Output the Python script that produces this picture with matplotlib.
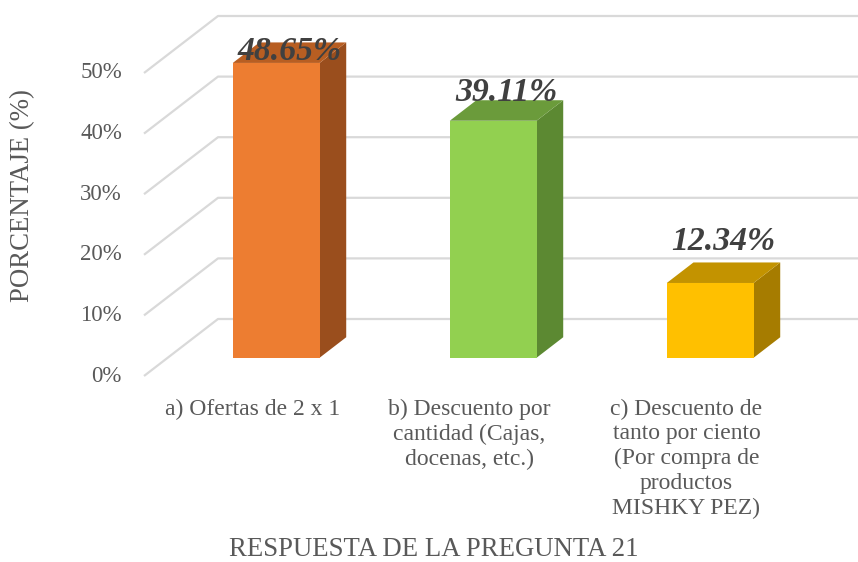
import matplotlib
matplotlib.use("Agg")
import matplotlib.pyplot as plt
from matplotlib.patches import Polygon

categories = ["a) Ofertas de 2 x 1",
              "b) Descuento por\ncantidad (Cajas,\ndocenas, etc.)",
              "c) Descuento de\ntanto por ciento\n(Por compra de\nproductos\nMISHKY PEZ)"]
values = [48.65, 39.11, 12.34]
value_labels = ["48.65%", "39.11%", "12.34%"]
yticks = [0, 10, 20, 30, 40, 50]
ytick_labels = ["0%", "10%", "20%", "30%", "40%", "50%"]

front_colors = ["#ED7D31", "#92D050", "#FFC000"]
side_colors = ["#9A4E1D", "#5C8932", "#A67C00"]
top_colors = ["#B85E22", "#6B9B3B", "#C39300"]
label_offsets_px = [1.5, 18, 31]

W, H = 858, 562
fig = plt.figure(figsize=(W / 100, H / 100), dpi=100)
ax = fig.add_axes([0, 0, 1, 1])
ax.set_axis_off()

px_per_cat = 217.0
px_per_pct = 6.06
x0_px = 144.0
y0_px = 376.0
ax.set_xlim(-x0_px / px_per_cat - 0.5, (W - x0_px) / px_per_cat - 0.5)
ax.set_ylim((y0_px - H) / px_per_pct, y0_px / px_per_pct)

kx = 74.0 / px_per_cat     # depth shift in category units
ky = 57.0 / px_per_pct     # depth shift in percent units
d0, d1 = 0.32, 0.68
hw = 0.2
grid_c = "#D9D9D9"
xr = ax.get_xlim()[1] + 1

# gridlines: diagonal on left side wall, horizontal on back wall
for t in yticks:
    ax.plot([-0.5, -0.5 + kx, xr], [t, t + ky, t + ky], color=grid_c, lw=1.6,
            solid_capstyle="butt", zorder=1)

for i, v in enumerate(values):
    c = i
    xl0, xr0 = c - hw + d0 * kx, c + hw + d0 * kx
    xl1, xr1 = c - hw + d1 * kx, c + hw + d1 * kx
    b0, b1 = d0 * ky, d1 * ky
    ax.add_patch(Polygon([(xr0, b0), (xr1, b1), (xr1, v + b1), (xr0, v + b0)],
                         closed=True, facecolor=side_colors[i], edgecolor="none", zorder=3))
    ax.add_patch(Polygon([(xl0, v + b0), (xr0, v + b0), (xr1, v + b1), (xl1, v + b1)],
                         closed=True, facecolor=top_colors[i], edgecolor="none", zorder=3))
    ax.add_patch(Polygon([(xl0, b0), (xr0, b0), (xr0, v + b0), (xl0, v + b0)],
                         closed=True, facecolor=front_colors[i], edgecolor="none", zorder=4))
    ax.text(c + 0.5 * kx, v + 0.5 * ky + label_offsets_px[i] / px_per_pct, value_labels[i],
            ha="center", va="center", fontsize=24.3, fontweight="bold", fontstyle="italic",
            family="Liberation Serif", color="#404040", zorder=6)

    ax.text(c, -3.7, categories[i], ha="center", va="top", fontsize=17,
            family="Liberation Serif", color="#595959", linespacing=1.24, zorder=6)

for t, lab in zip(yticks, ytick_labels):
    ax.text((122 - x0_px) / px_per_cat - 0.5, t, lab, ha="right", va="center",
            fontsize=16.5, family="Liberation Serif", color="#595959")

fig.text(23 / W, 1 - 196 / H, "PORCENTAJE (%)", rotation=90, ha="center", va="center",
         fontsize=19.3, family="Liberation Serif", color="#595959")
fig.text(434 / W, 1 - 549 / H, "RESPUESTA DE LA PREGUNTA 21", ha="center", va="center",
         fontsize=19.3, family="Liberation Serif", color="#595959")

fig.savefig("out.png", dpi=100)
